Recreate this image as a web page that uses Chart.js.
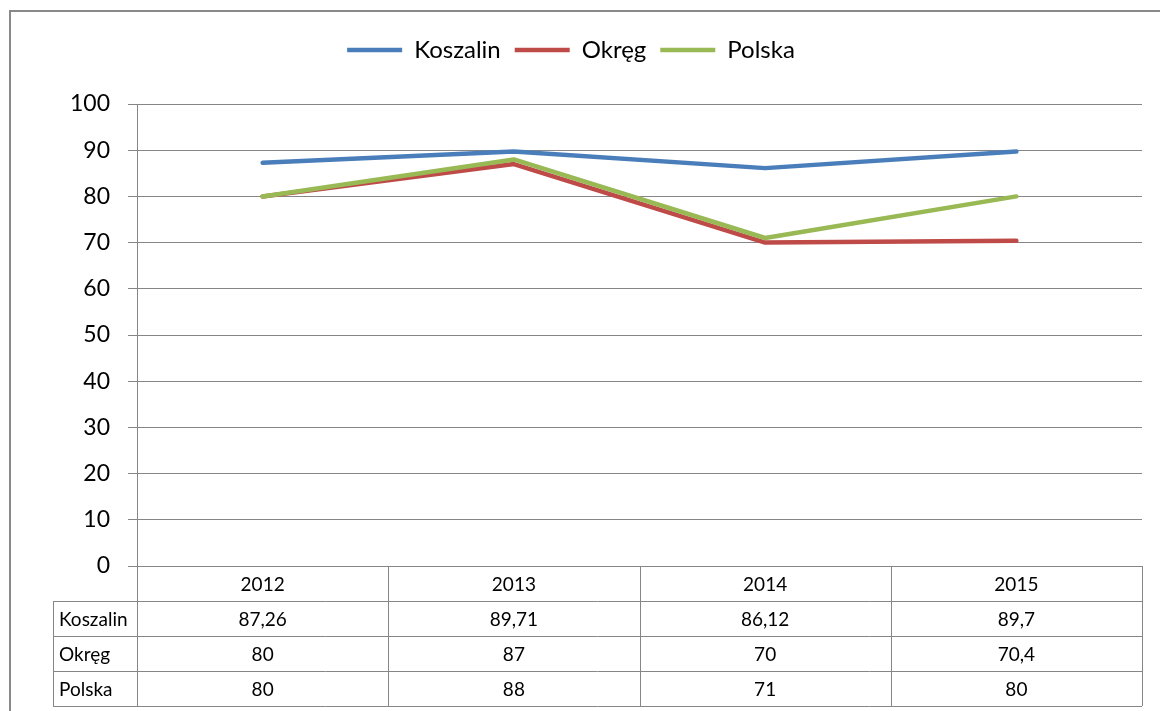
<!DOCTYPE html>
<html>
<head>
<meta charset="utf-8">
<script src="https://cdn.jsdelivr.net/npm/chart.js@4/dist/chart.umd.min.js"></script>
<style>
  html, body { margin: 0; padding: 0; background: #fff; overflow: hidden; }
  #wrap { position: relative; width: 1160px; height: 711px; }
  #frame { position: absolute; left: 9px; top: 10px; width: 1300px; height: 900px; border: 2px solid #898989; box-sizing: border-box; }
  #chart { position: absolute; left: 0; top: 0; }
</style>
</head>
<body>
<div id="wrap">
  <div id="frame"></div>
  <canvas id="chart" width="1160" height="711"></canvas>
</div>
<script>
/* Koszalin / Okręg / Polska — wykres liniowy z tabelą danych */

const YEARS = ["2012", "2013", "2014", "2015"];
const KOSZALIN = [87.26, 89.71, 86.12, 89.7];
const OKREG = [80, 87, 70, 70.4];
const POLSKA = [80, 88, 71, 80];
const Y_TICKS = [0, 10, 20, 30, 40, 50, 60, 70, 80, 90, 100];

const GRID = "#868686";
const FONT = "Lato, 'Noto Sans', sans-serif";

const SERIES = [
  ["Koszalin", KOSZALIN, "#4a7ebb", 1],
  ["Okręg", OKREG, "#be4b48", 2],
  ["Polska", POLSKA, "#98b954", 0],
];

function fmt(v) {
  return String(v).replace(".", ",");
}

// dodatkowy odstęp pod legendą
const legendGap = {
  id: "legendGap",
  beforeLayout(chart) {
    const lg = chart.legend;
    if (!lg || lg._gapPatched) return;
    const fit = lg.fit.bind(lg);
    lg.fit = function () {
      fit();
      this.height += 32;
    };
    lg._gapPatched = true;
  },
};

// tabela danych pod osią X
const dataTable = {
  id: "dataTable",
  afterDraw(chart) {
    const { ctx, chartArea: a, scales } = chart;
    const x = scales.x;
    const colW = (a.right - a.left) / YEARS.length;
    const top = a.bottom;
    const hdrH = 35, rowH = 35, labelLeft = 53;
    const px = (v) => Math.round(v) + 0.5;

    ctx.save();
    ctx.strokeStyle = GRID;
    ctx.lineWidth = 1;
    ctx.beginPath();
    ctx.moveTo(a.left, px(top));
    ctx.lineTo(a.right, px(top));
    for (let r = 0; r <= SERIES.length; r++) {
      const y = px(top + hdrH + r * rowH);
      ctx.moveTo(labelLeft, y);
      ctx.lineTo(a.right, y);
    }
    for (let i = 0; i <= YEARS.length; i++) {
      const xx = px(a.left + i * colW);
      ctx.moveTo(xx, top);
      ctx.lineTo(xx, top + hdrH + SERIES.length * rowH);
    }
    ctx.moveTo(px(labelLeft), top + hdrH);
    ctx.lineTo(px(labelLeft), top + hdrH + SERIES.length * rowH);
    ctx.stroke();

    ctx.fillStyle = "#000";
    ctx.font = "19px " + FONT;
    ctx.textBaseline = "middle";
    ctx.textAlign = "center";
    YEARS.forEach((yr, i) => ctx.fillText(yr, x.getPixelForValue(i), top + hdrH / 2 + 1));
    SERIES.forEach(([name, vals], r) => {
      const cy = top + hdrH + r * rowH + rowH / 2 + 1;
      ctx.textAlign = "left";
      ctx.fillText(name, labelLeft + 6, cy);
      ctx.textAlign = "center";
      vals.forEach((v, i) => ctx.fillText(fmt(v), x.getPixelForValue(i), cy));
    });
    ctx.restore();
  },
};

new Chart(document.getElementById("chart"), {
  type: "line",
  data: {
    labels: YEARS,
    datasets: SERIES.map(([label, data, color, order]) => ({
      label,
      data,
      order,
      borderColor: color,
      backgroundColor: color,
      borderWidth: 4.5,
      borderCapStyle: "round",
      borderJoinStyle: "round",
      pointRadius: 0,
      pointStyle: "line",
      tension: 0,
      fill: false,
    })),
  },
  options: {
    responsive: false,
    animation: false,
    layout: { padding: { top: 24, right: 18, bottom: 145, left: 0 } },
    plugins: {
      legend: {
        position: "top",
        align: "center",
        labels: {
          usePointStyle: true,
          pointStyleWidth: 55,
          padding: 14,
          color: "#000",
          font: { family: FONT, size: 24 },
          sort: (a, b) => a.datasetIndex - b.datasetIndex,
        },
      },
      tooltip: { enabled: false },
    },
    scales: {
      x: {
        type: "category",
        display: false,
        offset: true,
      },
      y: {
        min: 0,
        max: 100,
        afterFit: (s) => { s.width = 137; },
        afterBuildTicks: (s) => { s.ticks = Y_TICKS.map((v) => ({ value: v })); },
        ticks: {
          color: "#000",
          padding: 18,
          font: { family: FONT, size: 23 },
        },
        grid: { color: GRID, lineWidth: 1, tickLength: 9, tickColor: GRID },
        border: { color: GRID, width: 1 },
      },
    },
  },
  plugins: [legendGap, dataTable],
});
</script>
</body>
</html>
